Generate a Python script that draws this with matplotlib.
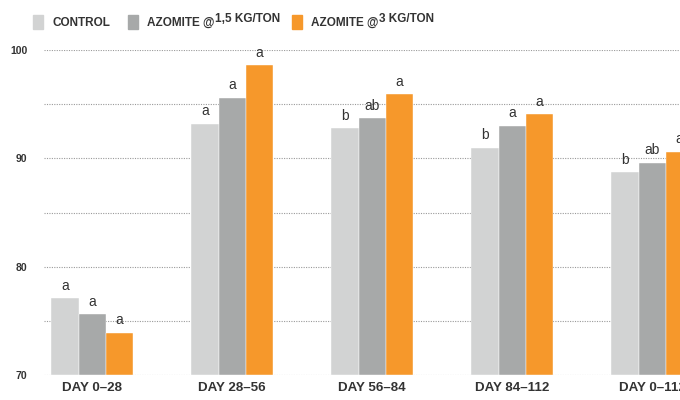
import matplotlib.pyplot as plt
from matplotlib.patches import Rectangle
import numpy as np

# dados
grupos = ['DAY 0–28', 'DAY 28–56', 'DAY 56–84', 'DAY 84–112', 'DAY 0–112']
controle = [77.1, 93.2, 92.8, 91.0, 88.7]
azomite_15 = [75.6, 95.6, 93.7, 93.0, 89.6]
azomite_3 = [73.9, 98.6, 95.9, 94.1, 90.6]
letras_controle = ['a', 'a', 'b', 'b', 'b']
letras_15 = ['a', 'a', 'ab', 'a', 'ab']
letras_3 = ['a', 'a', 'a', 'a', 'a']

cores = ['#d2d3d3', '#a7a9a9', '#f6982b']
texto = '#333333'
fonte = ['Liberation Sans', 'DejaVu Sans']

fig = plt.figure(figsize=(6.8, 4), dpi=100)
ax = fig.add_axes([44 / 680, 25 / 400, 4.85 * 140 / 680, 325 / 400])

x = np.arange(len(grupos))
w = 0.193
series = [controle, azomite_15, azomite_3]
letras = [letras_controle, letras_15, letras_3]

# linhas de grade pontilhadas
for nivel in [70, 75, 80, 85, 90, 95, 100]:
    ax.axhline(nivel, color='#9a9a9a', linestyle=(0, (1, 1.2)), linewidth=0.8, zorder=1)

for i, (vals, cor) in enumerate(zip(series, cores)):
    pos = x + (i - 1) * w
    ax.bar(pos, np.array(vals) - 70, bottom=70, width=w, color=cor,
           edgecolor='white', linewidth=0.3, zorder=2)
    for p, v, l in zip(pos, vals, letras[i]):
        ax.text(p, v + 0.5, l, ha='center', va='bottom', fontsize=10,
                color=texto, family=fonte, clip_on=False)

ax.set_xlim(-0.343, 4.507)
ax.set_ylim(70, 100)
ax.set_yticks([70, 80, 90, 100])
ax.set_yticklabels(['70', '80', '90', '100'], fontsize=7.5, fontweight='bold', color=texto,
                   family=fonte)
ax.set_xticks(x)
ax.set_xticklabels(grupos, fontsize=9.6, fontweight='bold', color=texto, family=fonte)
ax.tick_params(axis='y', length=0, pad=12)
ax.tick_params(axis='x', length=0, pad=5)
for s in ax.spines.values():
    s.set_visible(False)

# legenda manual
renderer = fig.canvas.get_renderer()

def item(x0, cor, partes):
    fig.patches.append(Rectangle((x0 / 680, 1 - 29 / 400), 10 / 680, 14 / 400,
                                 transform=fig.transFigure, color=cor))
    px = x0 + 19
    for dy, t in partes:
        txt = fig.text(px / 680, 1 - (26 - dy) / 400, t, fontsize=8.5, fontweight='bold',
                       color=texto, family=fonte, va='baseline')
        px = txt.get_window_extent(renderer).x1 + 1

item(33, cores[0], [(0, 'CONTROL')])
item(128, cores[1], [(0, 'AZOMITE @'), (4, '1,5 KG/TON')])
item(292, cores[2], [(0, 'AZOMITE @'), (4, '3 KG/TON')])

plt.savefig('out.png', dpi=100)
